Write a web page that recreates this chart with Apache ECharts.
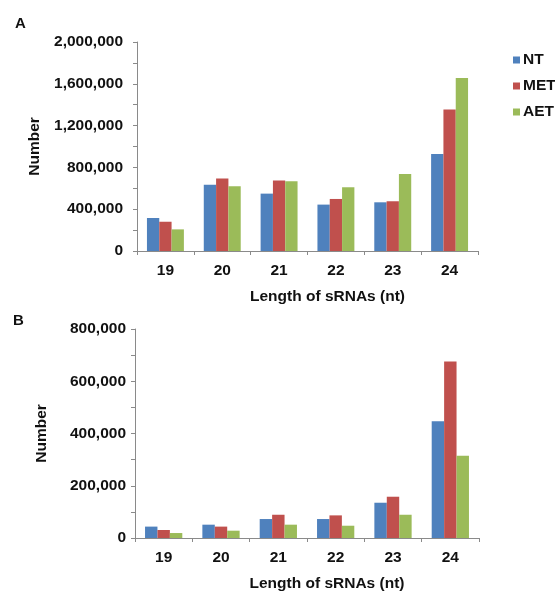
<!DOCTYPE html>
<html>
<head>
<meta charset="utf-8">
<script src="https://cdn.jsdelivr.net/npm/echarts@6/dist/echarts.min.js"></script>
<style>html,body{margin:0;padding:0;background:#fff}#c{width:555px;height:593px}</style>
</head>
<body>
<div id="c"></div>
<script>
var categories = ['19', '20', '21', '22', '23', '24'];
var seriesNames = ['NT', 'MET', 'AET'];
var colors = ['#4F81BD', '#C0504D', '#9BBB59'];
// Panel A
var A_NT  = [316000, 635000, 549000, 444000, 466000, 928000];
var A_MET = [280000, 693000, 674000, 498000, 476000, 1353000];
var A_AET = [207000, 619000, 667000, 610000, 737000, 1656000];
// Panel B
var B_NT  = [43600, 51000, 72600, 72600, 135000, 447000];
var B_MET = [30600, 43600, 89000, 86600, 158000, 676000];
var B_AET = [19000, 28000, 51000, 47000, 89000, 315000];
var yTicksA = {max: 2000000, step: 200000, labelStep: 400000};
var yTicksB = {max: 800000, step: 100000, labelStep: 200000};

var FONT = "'Liberation Sans', Arial, sans-serif";
var axisGray = '#8a8a8a';
function fmt(step) {
  return function (v) { return (v % step === 0) ? v.toLocaleString('en-US') : ''; };
}
function xAxis(gi) {
  return {
    type: 'category', gridIndex: gi, data: categories,
    name: 'Length of sRNAs (nt)', nameLocation: 'middle', nameGap: 38,
    nameTextStyle: {fontFamily: FONT, fontWeight: 'bold', fontSize: 15.5, color: '#111', verticalAlign: 'top', padding: [0, 0, 0, 40]},
    axisLine: {lineStyle: {color: axisGray, width: 1}},
    axisTick: {show: true, length: 4, lineStyle: {color: axisGray}},
    axisLabel: {fontFamily: FONT, fontWeight: 'bold', fontSize: 15.5, color: '#111', margin: 12}
  };
}
function yAxis(gi, t, gap, margin) {
  return {
    type: 'value', gridIndex: gi, min: 0, max: t.max, interval: t.step,
    name: 'Number', nameLocation: 'middle', nameGap: gap,
    nameTextStyle: {fontFamily: FONT, fontWeight: 'bold', fontSize: 15.5, color: '#111'},
    axisLine: {show: true, lineStyle: {color: axisGray, width: 1}},
    axisTick: {show: true, length: 4, lineStyle: {color: axisGray}},
    splitLine: {show: false},
    axisLabel: {fontFamily: FONT, fontWeight: 'bold', fontSize: 15.5, color: '#111', margin: margin, formatter: fmt(t.labelStep)}
  };
}
function bars(gi, arrs) {
  return arrs.map(function (d, i) {
    return {
      name: seriesNames[i], type: 'bar', xAxisIndex: gi, yAxisIndex: gi, data: d,
      itemStyle: {color: colors[i]}, barGap: '0%', barCategoryGap: '35%'
    };
  });
}
var chart = echarts.init(document.getElementById('c'), null, {renderer: 'canvas'});
chart.setOption({
  backgroundColor: '#fff',
  animation: false,
  color: colors,
  grid: [
    {left: 137, right: 77, top: 42, height: 209},
    {left: 135, right: 76, top: 329, height: 210}
  ],
  legend: {
    data: seriesNames, orient: 'vertical', left: 508, top: 47,
    itemWidth: 7, itemHeight: 7, itemGap: 10, icon: 'rect',
    textStyle: {fontFamily: FONT, fontWeight: 'bold', fontSize: 15.5, color: '#111', padding: [0, 0, 0, -2]}
  },
  graphic: [
    {type: 'text', left: 15, top: 16, style: {text: 'A', font: 'bold 15px ' + FONT, fill: '#111'}},
    {type: 'text', left: 13, top: 313, style: {text: 'B', font: 'bold 15px ' + FONT, fill: '#111'}}
  ],
  xAxis: [xAxis(0), xAxis(1)],
  yAxis: [yAxis(0, yTicksA, 92, 14), yAxis(1, yTicksB, 85, 9)],
  series: bars(0, [A_NT, A_MET, A_AET]).concat(bars(1, [B_NT, B_MET, B_AET]))
});
</script>
</body>
</html>
